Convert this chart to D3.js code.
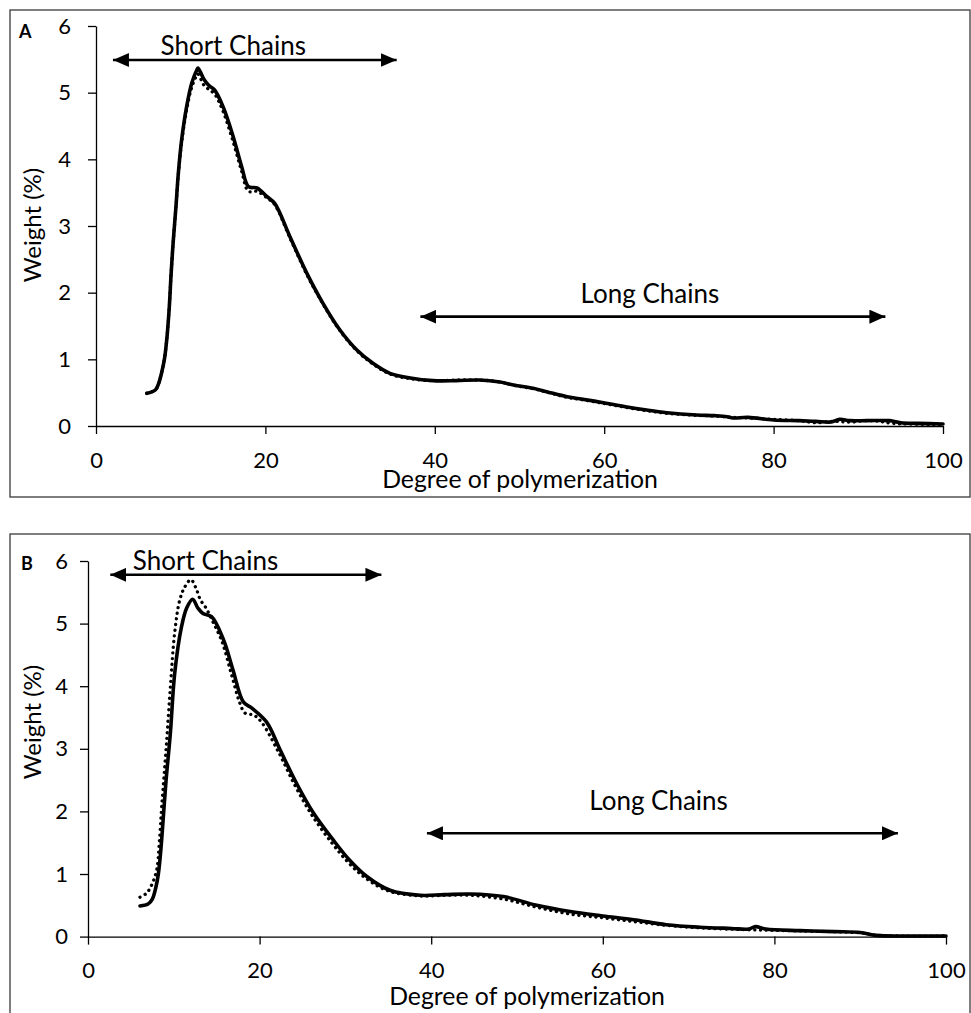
<!DOCTYPE html>
<html>
<head>
<meta charset="utf-8">
<script src="https://cdn.jsdelivr.net/npm/d3@7"></script>
<style>
  html, body { margin: 0; padding: 0; background: #fff; }
  svg { display: block; }
  text { font-family: Lato, "Open Sans", sans-serif; fill: #000; }
</style>
</head>
<body>
<svg id="chart" width="971" height="1013"></svg>
<script>
// Chain-length distributions (weight % vs degree of polymerization)

// Panel A
const dpA_solid = [6.0, 7.0, 7.4, 7.75, 8.1, 8.4, 8.66, 8.87, 9.13, 9.44, 9.72, 10.11, 10.7, 11.3, 11.9, 12.05, 12.7, 13.3, 14.0, 15.0, 16.2, 17.2, 18.0, 19.0, 20.2, 21.1, 22.9, 24.9, 26.8, 28.8, 30.8, 32.7, 34.7, 37.1, 39.8, 42.5, 45.3, 47.7, 49.3, 51.6, 53.2, 55.6, 57.1, 59.9, 62.5, 65.0, 67.4, 70.9, 73.0, 74.5, 75.2, 77.0, 80.0, 83.0, 85.0, 86.8, 87.8, 89.0, 91.0, 93.7, 95.0, 97.0, 100];
const wA_solid  = [0.49, 0.54, 0.64, 0.80, 1.02, 1.36, 1.80, 2.29, 2.79, 3.29, 3.79, 4.29, 4.79, 5.14, 5.34, 5.37, 5.21, 5.11, 5.04, 4.79, 4.34, 3.89, 3.59, 3.57, 3.44, 3.34, 2.84, 2.29, 1.84, 1.44, 1.14, 0.94, 0.79, 0.72, 0.68, 0.68, 0.69, 0.66, 0.615, 0.565, 0.515, 0.44, 0.41, 0.35, 0.29, 0.24, 0.20, 0.165, 0.155, 0.14, 0.12, 0.13, 0.09, 0.08, 0.07, 0.06, 0.10, 0.08, 0.08, 0.08, 0.05, 0.04, 0.03];
const dpA_dotted = [6.0, 7.0, 7.4, 7.75, 8.1, 8.4, 8.66, 8.87, 9.13, 9.44, 9.72, 10.11, 10.7, 11.3, 11.9, 12.05, 12.7, 13.3, 14.0, 15.0, 16.2, 17.2, 18.0, 19.0, 20.2, 21.1, 22.9, 24.9, 26.8, 28.8, 30.8, 32.7, 34.7, 37.1, 39.8, 42.5, 45.3, 47.7, 49.3, 51.6, 53.2, 55.6, 57.1, 59.9, 62.5, 65.0, 67.4, 70.9, 73.0, 75.0, 77.0, 80.0, 83.0, 85.0, 87.0, 89.0, 91.0, 92.5, 94.0, 96.0, 100];
const wA_dotted  = [0.49, 0.54, 0.64, 0.80, 1.02, 1.36, 1.80, 2.29, 2.79, 3.29, 3.77, 4.25, 4.74, 5.08, 5.26, 5.28, 5.12, 5.05, 4.98, 4.72, 4.26, 3.82, 3.52, 3.52, 3.42, 3.32, 2.82, 2.27, 1.83, 1.43, 1.13, 0.93, 0.78, 0.71, 0.68, 0.69, 0.69, 0.66, 0.61, 0.56, 0.51, 0.43, 0.40, 0.34, 0.28, 0.23, 0.19, 0.16, 0.15, 0.13, 0.12, 0.10, 0.08, 0.05, 0.07, 0.06, 0.08, 0.07, 0.04, 0.03, 0.02];

// Panel B
const dpB_solid = [6.06, 7.0, 7.5, 7.9, 8.2, 8.5, 8.8, 9.1, 9.6, 10.1, 10.9, 11.5, 12.2, 12.8, 13.4, 14.4, 15.8, 16.9, 18.1, 19.1, 20.8, 22.4, 24.3, 26.3, 28.6, 30.5, 32.5, 35.2, 38.7, 41.5, 44.5, 48.4, 52.3, 56.2, 60.0, 63.6, 67.4, 71.3, 75.0, 77.0, 77.8, 79.0, 83.0, 87.0, 90.0, 91.9, 95.0, 100];
const wB_solid  = [0.49, 0.52, 0.60, 0.78, 1.00, 1.40, 1.95, 2.50, 3.25, 4.20, 4.95, 5.25, 5.39, 5.25, 5.16, 5.11, 4.74, 4.26, 3.75, 3.65, 3.43, 2.98, 2.45, 1.97, 1.54, 1.22, 0.96, 0.74, 0.66, 0.67, 0.68, 0.64, 0.50, 0.40, 0.33, 0.27, 0.19, 0.15, 0.13, 0.12, 0.16, 0.12, 0.095, 0.08, 0.065, 0.02, 0.01, 0.01];
const dpB_dotted = [6.06, 6.8, 7.4, 8.0, 8.3, 8.6, 9.1, 9.6, 10.1, 10.7, 11.3, 12.0, 12.6, 13.1, 13.8, 14.3, 15.6, 16.7, 17.7, 18.3, 19.3, 20.2, 22.2, 24.1, 26.1, 28.4, 30.3, 32.3, 35.0, 38.7, 41.5, 44.5, 48.4, 52.3, 56.2, 60.0, 63.6, 67.4, 71.3, 77.0, 83.0, 90.0, 92.0, 100];
const wB_dotted  = [0.63, 0.69, 0.82, 1.06, 1.49, 2.10, 3.00, 3.99, 4.85, 5.38, 5.59, 5.70, 5.56, 5.38, 5.24, 5.10, 4.72, 4.20, 3.73, 3.57, 3.54, 3.43, 2.95, 2.42, 1.94, 1.50, 1.19, 0.94, 0.73, 0.65, 0.66, 0.66, 0.60, 0.47, 0.36, 0.30, 0.24, 0.18, 0.14, 0.11, 0.09, 0.06, 0.02, 0.01];

// Axis ticks
const xTicks = [0, 20, 40, 60, 80, 100];
const yTicks = [0, 1, 2, 3, 4, 5, 6];

// Range annotations in data units: arrow from x1 to x2 at height y, label anchored at (tx, ty)
const shortA = { label: "Short Chains", x1: 2.0, x2: 35.5, y: 5.49, tx: 16.2, ty: 5.57 };
const longA  = { label: "Long Chains",  x1: 38.3, x2: 93.2, y: 1.64, tx: 65.4, ty: 1.85 };
const shortB = { label: "Short Chains", x1: 2.6, x2: 34.2, y: 5.78, tx: 13.7, ty: 5.86 };
const longB  = { label: "Long Chains",  x1: 39.5, x2: 94.4, y: 1.65, tx: 66.5, ty: 2.02 };

const svg = d3.select("#chart");

// arrowhead marker, used at both ends
const defs = svg.append("defs");
defs.append("marker")
  .attr("id", "head")
  .attr("viewBox", "0 0 16 14")
  .attr("refX", 16).attr("refY", 7)
  .attr("markerUnits", "userSpaceOnUse")
  .attr("markerWidth", 16).attr("markerHeight", 14)
  .attr("orient", "auto-start-reverse")
  .append("path")
  .attr("d", "M0,0 L16,7 L0,14 Z")
  .attr("fill", "#000");

const panels = [
  { tag: "A", frame: { x: 10, y: 10, w: 960, h: 487 },
    plot: { left: 96, right: 943, top: 26, bottom: 426 },
    series: [[dpA_solid, wA_solid], [dpA_dotted, wA_dotted]],
    notes: [shortA, longA], tagPos: [19, 38],
    xTitle: [520, 488], yTitle: [41, 225], yPad: 17 },
  { tag: "B", frame: { x: 10, y: 534, w: 960, h: 492 },
    plot: { left: 88, right: 946, top: 561, bottom: 936.6 },
    series: [[dpB_solid, wB_solid], [dpB_dotted, wB_dotted]],
    notes: [shortB, longB], tagPos: [21, 570],
    xTitle: [527, 1005], yTitle: [41, 722], yPad: 12 }
];

panels.forEach(p => {
  const g = svg.append("g");

  g.append("rect")
    .attr("x", p.frame.x).attr("y", p.frame.y)
    .attr("width", p.frame.w).attr("height", p.frame.h)
    .attr("fill", "none").attr("stroke", "#3a3a3a").attr("stroke-width", 1.3);

  const x = d3.scaleLinear().domain([0, 100]).range([p.plot.left, p.plot.right]);
  const y = d3.scaleLinear().domain([0, 6]).range([p.plot.bottom, p.plot.top]);

  // axes
  const xAxis = d3.axisBottom(x).tickValues(xTicks).tickFormat(d3.format("d"))
    .tickSize(8).tickSizeOuter(0).tickPadding(18);
  const yAxis = d3.axisLeft(y).tickValues(yTicks).tickFormat(d3.format("d"))
    .tickSize(8).tickSizeOuter(0).tickPadding(p.yPad);

  const gx = g.append("g").attr("transform", `translate(0,${p.plot.bottom})`).call(xAxis);
  const gy = g.append("g").attr("transform", `translate(${p.plot.left},0)`).call(yAxis);
  [gx, gy].forEach(a => {
    a.selectAll("path.domain").attr("stroke", "#000").attr("stroke-width", 1.3);
    a.selectAll(".tick line").attr("stroke", "#000").attr("stroke-width", 1.3);
    a.selectAll(".tick text").attr("font-family", "Lato, sans-serif").attr("font-size", 22).attr("fill", "#000");
  });

  // series
  const line = d3.line().x(d => x(d[0])).y(d => y(d[1])).curve(d3.curveCatmullRom.alpha(0.5));
  const [solid, dotted] = p.series;
  g.append("path")
    .datum(dotted[0].map((v, i) => [v, dotted[1][i]]))
    .attr("d", line).attr("fill", "none").attr("stroke", "#000")
    .attr("stroke-width", 3.3).attr("stroke-linecap", "round")
    .attr("stroke-dasharray", "0.1 5.6");
  g.append("path")
    .datum(solid[0].map((v, i) => [v, solid[1][i]]))
    .attr("d", line).attr("fill", "none").attr("stroke", "#000")
    .attr("stroke-width", 3.6).attr("stroke-linejoin", "round").attr("stroke-linecap", "round");

  // range annotations
  p.notes.forEach(n => {
    g.append("line")
      .attr("x1", x(n.x1)).attr("x2", x(n.x2))
      .attr("y1", y(n.y)).attr("y2", y(n.y))
      .attr("stroke", "#000").attr("stroke-width", 2.6)
      .attr("marker-start", "url(#head)").attr("marker-end", "url(#head)");
    g.append("text")
      .attr("x", x(n.tx)).attr("y", y(n.ty))
      .attr("text-anchor", "middle").attr("font-size", 26)
      .text(n.label);
  });

  // axis titles
  g.append("text")
    .attr("x", p.xTitle[0]).attr("y", p.xTitle[1])
    .attr("text-anchor", "middle").attr("font-size", 24.8)
    .text("Degree of polymerization");
  g.append("text")
    .attr("transform", `translate(${p.yTitle[0]},${p.yTitle[1]}) rotate(-90)`)
    .attr("text-anchor", "middle").attr("font-size", 24)
    .text("Weight (%)");

  // panel letter
  g.append("text")
    .attr("x", p.tagPos[0]).attr("y", p.tagPos[1])
    .attr("font-size", 18).attr("font-weight", "bold")
    .text(p.tag);
});
</script>
</body>
</html>
